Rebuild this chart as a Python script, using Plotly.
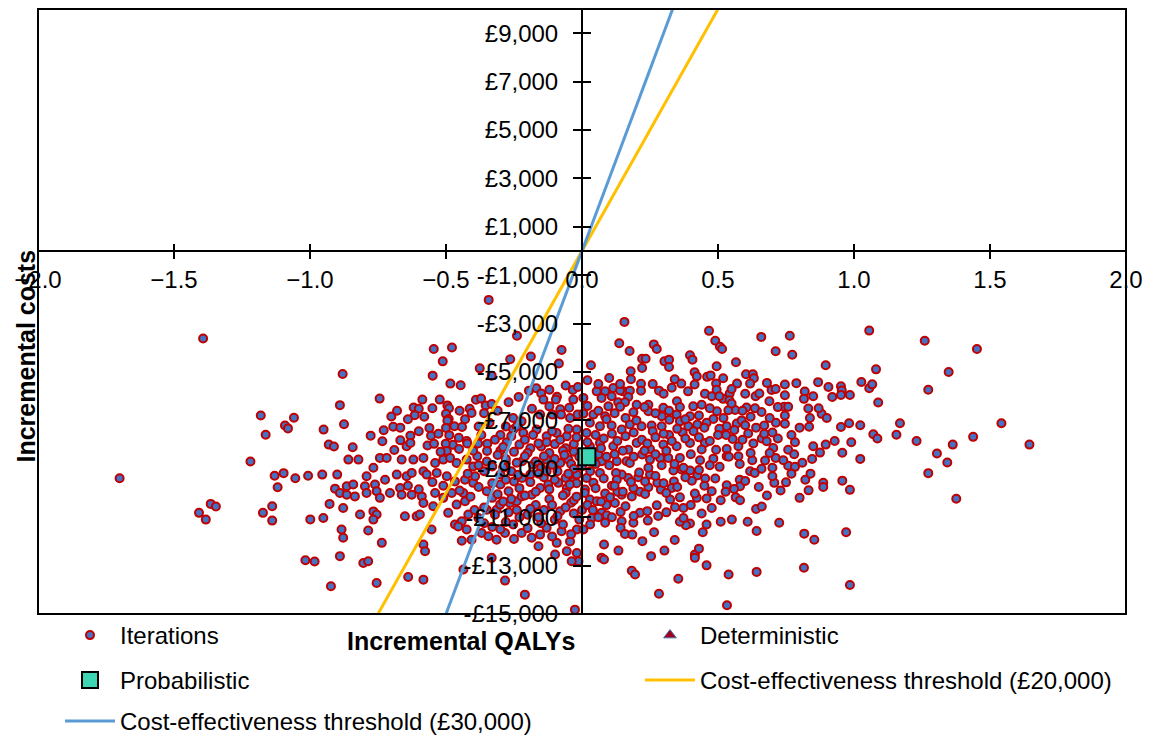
import plotly.graph_objects as go

# ---------------- axes ----------------
X_RANGE = [-2.0, 2.0]
Y_RANGE = [-15000, 10000]
x_tickvals = [-2.0, -1.5, -1.0, -0.5, 0.0, 0.5, 1.0, 1.5, 2.0]
y_tickvals = [-15000, -13000, -11000, -9000, -7000, -5000, -3000, -1000,
              1000, 3000, 5000, 7000, 9000]
y_ticktext = ["-£15,000", "-£13,000", "-£11,000", "-£9,000", "-£7,000", "-£5,000",
              "-£3,000", "-£1,000", "£1,000", "£3,000", "£5,000", "£7,000", "£9,000"]

# ---------------- summary points ----------------
prob_qaly = [0.018]
prob_cost = [-8500]
det_qaly = [0.018]
det_cost = [-8500]

thresholds = [20000, 30000]
threshold_names = ["Cost-effectiveness threshold (£20,000)",
                   "Cost-effectiveness threshold (£30,000)"]
threshold_colors = ["#FFC000", "#5B9BD5"]

# ---------------- PSA iterations (incremental QALYs, incremental costs) ----------------
far_left = [
    (-1.393, -3615), (-0.88, -5080), (-0.89, -6370), (-1.181, -6800), (-1.059, -6890),
    (-1.092, -7210), (-1.081, -7330), (-1.163, -7590), (-0.95, -7380), (-0.931, -8000),
    (-0.912, -8080), (-0.875, -7160), (-1.70, -9390), (-1.219, -8700), (-1.130, -9290),
    (-1.097, -9180), (-1.054, -9390), (-1.007, -9290), (-0.955, -9240), (-0.90, -9240),
    (-1.119, -9760), (-0.908, -9820), (-1.365, -10450), (-1.346, -10560), (-1.408, -10820),
    (-1.383, -11100), (-1.173, -10820), (-1.139, -10550), (-1.139, -11140), (-0.999, -11090),
    (-0.951, -11030), (-0.928, -10450), (-1.017, -12780), (-0.983, -12830), (-0.923, -13850),
]

far_right = [
    (1.056, -3290), (1.260, -3710), (1.452, -4050), (0.896, -4720), (1.081, -4890),
    (1.348, -5000), (1.273, -5730), (0.906, -5620), (0.952, -5590), (0.955, -5760),
    (0.920, -6030), (0.952, -5950), (0.985, -5950), (1.027, -5410), (1.056, -5670),
    (1.067, -5510), (1.089, -6260), (0.881, -6730), (0.900, -6900), (0.952, -7270),
    (0.982, -7120), (1.023, -7200), (1.169, -7120), (1.156, -7590), (1.071, -7570),
    (1.086, -7750), (1.230, -7850), (1.438, -7680), (1.542, -7120), (1.645, -8000),
    (1.363, -8000), (0.896, -8000), (0.929, -7850), (0.990, -7900), (1.305, -8370),
    (0.957, -8340), (0.875, -8330), (1.023, -8590), (1.343, -8740), (1.273, -9180),
    (0.887, -9580), (0.887, -9750), (0.957, -9490), (0.985, -9870), (1.376, -10240),
    (0.971, -11620), (0.985, -13800),
]

upper_left = [
    (-0.343, -2020), (-0.239, -3500), (-0.545, -4050), (-0.478, -3990), (-0.512, -4560),
    (-0.549, -5150), (-0.484, -5480), (-0.446, -5550), (-0.264, -4470), (-0.188, -4360),
    (-0.085, -4650), (-0.075, -4090), (-0.376, -4850), (-0.332, -5150), (-0.744, -6100),
    (-0.619, -6470), (-0.600, -6520), (-0.587, -6140), (-0.615, -6790), (-0.701, -6840),
    (-0.523, -6140), (-0.495, -6380), (-0.489, -6500), (-0.500, -6730), (-0.490, -6940),
    (-0.413, -6520), (-0.390, -6150), (-0.371, -6100), (-0.354, -6380), (-0.332, -6320),
    (-0.406, -6690), (-0.777, -7630), (-0.843, -8110), (-0.729, -7410), (-0.694, -7260),
    (-0.668, -7300), (-0.631, -7630), (-0.734, -7860), (-0.690, -8220), (-0.668, -7820),
    (-0.645, -8070), (-0.631, -7930), (-0.561, -7310), (-0.555, -7630), (-0.528, -7550),
    (-0.495, -7010), (-0.500, -7310), (-0.469, -7240), (-0.441, -7270), (-0.488, -7610),
    (-0.453, -7720), (-0.424, -7850), (-0.475, -8010), (-0.568, -8040), (-0.544, -7970),
    (-0.501, -7960), (-0.497, -8260), (-0.452, -8180), (-0.422, -7950), (-0.382, -7950),
    (-0.348, -7960), (-0.349, -8260), (-0.31, -6600), (-0.28, -7250), (-0.30, -7600),
    (-0.27, -6250),
]

upper_mid = [
    (-0.233, -6030), (-0.195, -5770), (-0.168, -5670), (-0.150, -5890), (-0.120, -5730),
    (-0.092, -6020), (-0.060, -5560), (-0.034, -5740), (-0.015, -5620), (-0.142, -6140),
    (-0.120, -6420), (-0.096, -6140), (-0.080, -6540), (-0.047, -6480), (-0.032, -6140),
    (-0.184, -6520), (-0.154, -6760), (-0.109, -6760), (-0.077, -6760), (-0.044, -6900),
    (-0.016, -6760), (-0.253, -6900), (-0.222, -7040), (-0.253, -7380), (-0.216, -7520),
    (-0.167, -7380), (-0.130, -7660), (-0.093, -7520), (-0.056, -7660), (-0.019, -7380),
    (-0.277, -7900), (-0.230, -8000), (-0.190, -8150), (-0.150, -8080), (-0.100, -7980),
    (-0.060, -8150), (-0.030, -8300), (-0.300, -8250), (-0.250, -8300), (-0.200, -8350),
    (-0.120, -8350), (-0.070, -8250), (-0.030, -7980),
]

upper_right = [
    (0.156, -2930), (0.137, -3810), (0.175, -4130), (0.264, -3860), (0.275, -4050),
    (0.467, -3300), (0.490, -3710), (0.507, -3960), (0.515, -4050), (0.659, -3550),
    (0.764, -3500), (0.712, -4140), (0.773, -4290), (0.033, -4720), (0.020, -5340),
    (0.221, -4450), (0.234, -4450), (0.221, -4830), (0.179, -4970), (0.303, -4560),
    (0.320, -4490), (0.320, -4790), (0.397, -4310), (0.406, -4490), (0.495, -4760),
    (0.566, -4600), (0.414, -5010), (0.422, -5180), (0.341, -5300), (0.365, -5480),
    (0.414, -5520), (0.460, -5200), (0.473, -5140), (0.493, -5480), (0.519, -5260),
    (0.603, -5090), (0.628, -5090), (0.632, -5260), (0.570, -5480), (0.618, -5480),
    (0.697, -5740), (0.712, -5700), (0.746, -5520), (0.788, -5460), (0.868, -5420),
    (0.638, -6000), (0.652, -5890), (0.689, -6210), (0.746, -5960), (0.819, -5810),
    (0.816, -6110), (0.850, -6000), (0.283, -5770), (0.349, -6210),
    (0.217, -5490), (0.217, -5770), (0.152, -5800), (0.176, -5770), (0.115, -5660),
    (0.140, -5760), (0.085, -5800), (0.054, -5800), (0.072, -6070), (0.109, -6000),
    (0.170, -6030), (0.133, -6250), (0.158, -6250),
    (0.452, -5900), (0.477, -6000), (0.519, -6110), (0.543, -5890), (0.542, -6170),
    (0.495, -5730), (0.505, -6000),
    (0.636, -6500), (0.605, -6470), (0.563, -6570), (0.538, -6580), (0.496, -6620),
    (0.440, -6350), (0.409, -6420), (0.397, -6830), (0.348, -6760), (0.299, -6480),
    (0.293, -6830), (0.244, -6350), (0.244, -6620), (0.201, -6350), (0.189, -6660),
    (0.140, -6440), (0.097, -6420), (0.085, -6830), (0.042, -6760), (0.005, -6720),
    (0.005, -6070),
    (0.743, -6440), (0.758, -6440), (0.832, -6510), (0.838, -6900), (0.835, -7260),
    (0.746, -6800), (0.746, -7140), (0.713, -7100), (0.670, -7210), (0.611, -7540),
    (0.569, -7130), (0.587, -7000), (0.532, -7240), (0.505, -7350), (0.483, -6940),
    (0.458, -7100), (0.424, -7170), (0.391, -7240), (0.360, -7040), (0.321, -6970),
    (0.293, -7240), (0.256, -7210), (0.219, -7240), (0.176, -7170), (0.146, -7380),
    (0.109, -7210), (0.066, -7240), (0.029, -7100), (0.017, -7520),
    (0.554, -7770), (0.575, -8070), (0.532, -8180), (0.661, -7750), (0.679, -7860),
    (0.703, -8140), (0.758, -8210), (0.783, -7900), (0.850, -8070), (0.493, -8210),
    (0.452, -7930), (0.397, -7930), (0.348, -8070), (0.299, -8000), (0.250, -8180),
    (0.201, -7930), (0.170, -8210), (0.115, -8070), (0.066, -7930), (0.029, -8070),
    (0.26, -7450), (0.32, -7600), (0.37, -7500), (0.43, -7700), (0.50, -7600),
    (0.59, -7800), (0.64, -7300), (0.70, -7500), (0.87, -6500),
]

lower_left = [
    (-0.859, -8620), (-0.822, -8620), (-0.767, -8960), (-0.792, -9310), (-0.743, -8550),
    (-0.718, -8550), (-0.663, -8620), (-0.620, -8620), (-0.583, -8550), (-0.540, -8760),
    (-0.510, -8620), (-0.485, -8550), (-0.461, -8760), (-0.424, -8620), (-0.400, -8900),
    (-0.865, -9720), (-0.841, -9650), (-0.798, -9720), (-0.761, -9650), (-0.724, -9450),
    (-0.681, -9240), (-0.645, -9310), (-0.626, -9170), (-0.583, -9100), (-0.571, -9240),
    (-0.534, -9170), (-0.497, -9310), (-0.467, -9520), (-0.430, -9450), (-0.400, -9580),
    (-0.393, -9310),
    (-0.890, -10000), (-0.865, -10070), (-0.835, -10140), (-0.792, -10000), (-0.755, -9930),
    (-0.743, -10200), (-0.706, -10000), (-0.669, -9790), (-0.663, -10070), (-0.626, -10070),
    (-0.589, -10140), (-0.583, -10410), (-0.540, -10000), (-0.510, -10200), (-0.479, -10000),
    (-0.436, -10000), (-0.430, -10340), (-0.461, -10480),
    (-0.878, -10620), (-0.816, -10890), (-0.767, -10760), (-0.755, -10890), (-0.767, -11100),
    (-0.651, -10960), (-0.608, -10960), (-0.596, -10890), (-0.547, -10550), (-0.492, -10820),
    (-0.467, -11300), (-0.442, -11170), (-0.424, -11510), (-0.418, -10890), (-0.381, -11030),
    (-0.350, -10690), (-0.314, -10690), (-0.301, -10480), (-0.265, -10410), (-0.240, -10340),
    (-0.222, -10140), (-0.185, -10070), (-0.154, -9790), (-0.124, -9650), (-0.087, -9580),
    (-0.056, -9790), (-0.032, -9520), (-0.019, -9240),
    (-0.884, -11510), (-0.878, -11850), (-0.786, -11550), (-0.736, -12060), (-0.583, -12130),
    (-0.577, -12410), (-0.553, -11510), (-0.455, -11380), (-0.442, -11970), (-0.406, -11930),
    (-0.369, -11650), (-0.344, -11790), (-0.314, -11930), (-0.283, -11650), (-0.253, -11300),
    (-0.222, -11650), (-0.185, -11850), (-0.154, -11720), (-0.130, -11440), (-0.093, -12060),
    (-0.075, -11580), (-0.044, -12000), (-0.019, -11510), (-0.013, -12820), (-0.038, -12820),
    (-0.890, -12610), (-0.804, -12890), (-0.786, -12820), (-0.755, -13720), (-0.639, -13470),
    (-0.583, -13580), (-0.436, -13160), (-0.332, -12680), (-0.283, -13620), (-0.210, -14200),
    (-0.099, -12540), (-0.056, -12410), (-0.019, -12480), (-0.026, -14820),
    (-0.35, -9930), (-0.33, -10200), (-0.30, -9650), (-0.27, -9930), (-0.25, -9520),
    (-0.22, -9380), (-0.19, -9240), (-0.15, -8960), (-0.11, -8830), (-0.08, -8760),
    (-0.05, -8620), (-0.26, -9100), (-0.30, -9240), (-0.33, -8900), (-0.36, -9100),
    (-0.28, -8760), (-0.22, -8690), (-0.18, -8830), (-0.13, -8620), (-0.09, -9100),
    (-0.06, -9380), (-0.20, -10900), (-0.17, -10500), (-0.12, -10250), (-0.08, -10750),
    (-0.04, -10400), (-0.10, -11100), (-0.15, -11250), (-0.24, -10700), (-0.28, -11200),
    (-0.33, -11400),
    (-0.385, -8480), (-0.35, -8700), (-0.31, -8430), (-0.28, -8600), (-0.24, -8750),
    (-0.21, -8480), (-0.17, -8700), (-0.14, -8480), (-0.10, -8600), (-0.065, -8430),
    (-0.04, -8800),
]

lower_right = [
    (0.036, -11030), (0.005, -11510), (0.072, -10820), (0.091, -10920), (0.085, -11230),
    (0.142, -10780), (0.146, -11170), (0.142, -11440), (0.158, -11690), (0.189, -11230),
    (0.185, -11720), (0.213, -10820), (0.242, -11140), (0.265, -11620), (0.222, -11990),
    (0.081, -12130), (0.072, -12680), (0.081, -12750), (0.134, -12380), (0.183, -13210),
    (0.195, -13370), (0.283, -14160), (0.354, -13540), (0.254, -12610), (0.303, -12380),
    (0.341, -11940), (0.415, -12540), (0.415, -12680), (0.430, -12300), (0.458, -12990),
    (0.533, -14640), (0.539, -13370), (0.642, -13260), (0.816, -13090), (0.817, -11680),
    (0.854, -11930), (0.725, -11230), (0.642, -11570),
    (0.609, -11190), (0.551, -11100), (0.510, -11190), (0.458, -11300), (0.444, -11620),
    (0.397, -11260), (0.382, -11330), (0.360, -11190), (0.373, -11030),
    (0.342, -10590), (0.373, -10620), (0.275, -10510), (0.477, -10620), (0.458, -10230),
    (0.422, -10200), (0.415, -10020), (0.360, -10180), (0.324, -10270),
    (0.640, -10660), (0.661, -10560), (0.750, -9560), (0.758, -8870), (0.783, -8920),
    (0.821, -9450), (0.833, -9890), (0.846, -8590), (0.707, -9580), (0.700, -9310),
    (0.700, -8960), (0.712, -8550), (0.673, -8660), (0.626, -8650), (0.618, -9100),
    (0.635, -9170), (0.580, -9450), (0.581, -9720), (0.532, -9680), (0.528, -9950),
    (0.559, -9830), (0.565, -10180), (0.581, -10300), (0.506, -8920), (0.532, -8480),
    (0.575, -8480), (0.477, -9930), (0.483, -8580), (0.434, -8650), (0.424, -9280),
    (0.453, -9400), (0.404, -9490), (0.397, -9070), (0.366, -9030), (0.336, -9070),
    (0.338, -9520), (0.330, -9790), (0.290, -9860), (0.277, -9580), (0.244, -9760),
    (0.250, -9240), (0.244, -8960), (0.207, -9350), (0.170, -9380), (0.146, -9240),
    (0.125, -9170), (0.128, -9450), (0.164, -8690), (0.176, -8760), (0.250, -8620),
    (0.287, -8550), (0.293, -8850), (0.317, -8550), (0.360, -8550), (0.373, -8960),
    (0.221, -8410), (0.128, -8690), (0.072, -8690), (0.066, -9170), (0.017, -9380),
    (0.042, -9580), (0.011, -9860), (0.029, -10270), (0.054, -10340), (0.085, -10020),
    (0.121, -10410), (0.103, -10180), (0.146, -10070), (0.183, -10140), (0.213, -9950),
    (0.232, -10040), (0.189, -9790), (0.232, -9520),
]

core = [
    (-0.01, -8500), (0.00, -8900), (0.03, -9100), (-0.03, -9000), (0.05, -8800),
    (0.06, -8400), (0.09, -8500), (0.10, -8850), (-0.05, -9200), (-0.02, -9600),
    (0.01, -10000), (-0.03, -10300), (0.00, -10700), (0.02, -10500), (-0.06, -10000),
    (0.05, -9800), (0.08, -9400), (0.11, -9700), (0.13, -9950), (0.09, -10500),
    (0.06, -11000), (0.03, -11300),
]

core_left = [
    (-0.34, -7100), (-0.32, -7800), (-0.29, -8100), (-0.26, -7650), (-0.24, -7250),
    (-0.21, -7800), (-0.18, -7600), (-0.16, -7950), (-0.13, -7900), (-0.11, -7450),
    (-0.08, -7800), (-0.05, -7350), (-0.02, -7700), (-0.33, -9600), (-0.31, -10050),
    (-0.28, -9450), (-0.26, -10250), (-0.23, -9800), (-0.21, -10100), (-0.19, -9550),
    (-0.17, -9950), (-0.14, -9350), (-0.12, -9850), (-0.10, -9450), (-0.07, -10100),
    (-0.045, -9650), (-0.02, -10150), (-0.36, -10600), (-0.32, -10900), (-0.29, -10350),
    (-0.27, -10800), (-0.23, -11000), (-0.19, -10650), (-0.16, -11000), (-0.14, -10700),
    (-0.11, -10500), (-0.09, -10950), (-0.06, -10600), (-0.03, -10850), (-0.01, -11100),
    (-0.13, -9100), (-0.16, -9200), (-0.235, -9250), (-0.29, -8950), (-0.38, -9750),
    (-0.41, -10150), (-0.395, -10700), (-0.36, -11250), (-0.30, -11500), (-0.25, -11900),
    (-0.20, -11450), (-0.16, -12200), (-0.11, -11800), (-0.07, -11300), (-0.04, -11700),
    (-0.68, -6600), (-0.64, -6950), (-0.58, -6850), (-0.55, -6500), (-0.45, -6600),
    (-0.43, -6950), (-0.38, -7250), (-0.36, -6700), (-0.60, -7450), (-0.52, -8300),
    (-0.40, -8250), (-0.37, -7600), (-0.64, -9700), (-0.60, -9850), (-0.55, -9550),
    (-0.51, -9700), (-0.45, -9900), (-0.42, -9200), (-0.38, -8850),
]

core_right = [
    (0.02, -7900), (0.05, -7600), (0.08, -7750), (0.11, -7550), (0.13, -7850),
    (0.16, -7650), (0.19, -7500), (0.22, -7800), (0.24, -7950), (0.27, -7700),
    (0.30, -7550), (0.33, -7850), (0.35, -7350), (0.38, -7750), (0.41, -7450),
    (0.45, -7300), (0.47, -7850), (0.03, -8350), (0.07, -8150), (0.12, -8400),
    (0.15, -8250), (0.19, -8500), (0.23, -8250), (0.27, -8400), (0.31, -8250),
    (0.34, -8800), (0.40, -8400), (0.44, -8200), (0.47, -8850), (0.04, -10700),
    (0.07, -10350), (0.11, -11000), (0.16, -10550), (0.19, -10950), (0.24, -10750),
    (0.28, -10950), (0.31, -10800), (0.12, -9700), (0.15, -9950), (0.18, -9550),
    (0.21, -9150), (0.27, -9300), (0.30, -9600), (0.31, -10000), (0.35, -9750),
    (0.38, -9350), (0.43, -9050), (0.45, -9700), (0.49, -9400), (0.51, -10300),
    (0.40, -10500), (0.44, -10850), (0.02, -6400), (0.06, -6600), (0.09, -6950),
    (0.12, -6700), (0.16, -6900), (0.20, -7000), (0.23, -6450), (0.27, -6700),
    (0.32, -6600), (0.36, -6450), (0.38, -6950), (0.43, -6800), (0.47, -6500),
    (0.52, -6900), (0.55, -6300), (0.59, -6600), (0.62, -6850), (0.66, -6650),
    (0.69, -6900), (0.72, -6450), (0.06, -5500), (0.10, -5250), (0.14, -5500),
    (0.18, -5300), (0.26, -5500), (0.30, -5900), (0.33, -5650), (0.39, -5800),
    (0.55, -5700), (0.60, -5900), (0.68, -5450),
    (0.53, -7600), (0.56, -7400), (0.60, -7200), (0.63, -7950), (0.67, -7550),
    (0.72, -7750), (0.77, -7600), (0.80, -7300), (0.54, -8500), (0.58, -8800),
    (0.62, -8350), (0.66, -9000), (0.69, -8350), (0.74, -8650), (0.78, -8400),
    (0.81, -8750), (0.60, -9500), (0.65, -9750), (0.68, -10100), (0.73, -9900),
    (0.77, -9200), (0.80, -10200), (0.84, -9200),
]

iterations = (far_left + far_right + upper_left + upper_mid + upper_right
              + lower_left + lower_right + core + core_left + core_right)
iter_qaly = [p[0] for p in iterations]
iter_cost = [p[1] for p in iterations]

FONT = "Liberation Sans, Arial, sans-serif"
PLOT_L, PLOT_W, PLOT_B, PLOT_H = 38, 1088, 614.5, 605


def px_x(px):
    return (px - PLOT_L) / PLOT_W


def px_y(py):
    return (PLOT_B - py) / PLOT_H


fig = go.Figure()

fig.add_trace(go.Scatter(
    x=iter_qaly, y=iter_cost, mode="markers", name="Iterations",
    marker=dict(size=8, color="#4472C4", line=dict(color="#C00000", width=2)),
    legend="legend",
))
fig.add_trace(go.Scatter(
    x=det_qaly, y=det_cost, mode="markers", name="Deterministic",
    marker=dict(size=11, symbol="triangle-up", color="#A00020", line=dict(color="#4A6FA5", width=1)),
    legend="legend2",
))
fig.add_trace(go.Scatter(
    x=prob_qaly, y=prob_cost, mode="markers", name="Probabilistic",
    marker=dict(size=17, symbol="square", color="#3CD6B4", line=dict(color="#000000", width=2)),
    legend="legend3",
))
for lam, nm, col, lg in zip(thresholds, threshold_names, threshold_colors, ["legend4", "legend5"]):
    ys = [Y_RANGE[0], Y_RANGE[1]]
    xs = [v / lam for v in ys]
    fig.add_trace(go.Scatter(
        x=xs, y=ys, mode="lines", name=nm,
        line=dict(color=col, width=3), legend=lg,
    ))

# helper trace for the overlaid axes (cross tick marks)
fig.add_trace(go.Scatter(x=[None], y=[None], xaxis="x2", yaxis="y2",
                         showlegend=False, hoverinfo="skip"))

x_pos = (0 - Y_RANGE[0]) / (Y_RANGE[1] - Y_RANGE[0])
y_pos = (0 - X_RANGE[0]) / (X_RANGE[1] - X_RANGE[0])

tick_font = dict(family=FONT, size=24, color="#000000")
legend_font = dict(family=FONT, size=24, color="#000000")


def legend_box(xpx, ypx):
    return dict(x=px_x(xpx), y=px_y(ypx), xanchor="left", yanchor="middle",
                orientation="h", bgcolor="rgba(0,0,0,0)", font=legend_font, itemwidth=50)


fig.update_layout(
    width=1152, height=740,
    margin=dict(l=38, r=26, t=9, b=126, autoexpand=False),
    paper_bgcolor="white", plot_bgcolor="white",
    font=dict(family=FONT, size=24, color="#000000"),
    xaxis=dict(range=X_RANGE, anchor="free", position=x_pos, showgrid=False, zeroline=False,
               showline=True, linecolor="black", linewidth=2,
               tickvals=x_tickvals, tickformat=".1f", ticks="outside", ticklen=7,
               tickwidth=2, tickcolor="black", tickfont=tick_font, ticklabelstandoff=0),
    yaxis=dict(range=Y_RANGE, anchor="free", position=y_pos, showgrid=False, zeroline=False,
               showline=True, linecolor="black", linewidth=2,
               tickvals=y_tickvals, ticktext=y_ticktext, ticks="outside", ticklen=8,
               tickwidth=2, tickcolor="black", tickfont=tick_font, ticklabelstandoff=10),
    xaxis2=dict(range=X_RANGE, overlaying="x", anchor="free", position=x_pos, showgrid=False,
                zeroline=False, showline=False, tickvals=x_tickvals, ticks="inside", ticklen=7,
                tickwidth=2, tickcolor="black", showticklabels=False),
    yaxis2=dict(range=Y_RANGE, overlaying="y", anchor="free", position=y_pos, showgrid=False,
                zeroline=False, showline=False, tickvals=y_tickvals, ticks="inside", ticklen=8,
                tickwidth=2, tickcolor="black", showticklabels=False),
    legend=legend_box(60, 636),
    legend2=legend_box(640, 636),
    legend3=legend_box(60, 681),
    legend4=legend_box(640, 681),
    legend5=legend_box(60, 722),
    shapes=[dict(type="rect", xref="paper", yref="paper", x0=0, x1=1, y0=0, y1=1,
                 line=dict(color="black", width=2), layer="above")],
    annotations=[
        dict(text="<b>Incremental QALYs</b>", xref="paper", yref="paper",
             x=px_x(461), y=px_y(641), showarrow=False,
             xanchor="center", yanchor="middle", font=dict(family=FONT, size=25, color="#000000")),
        dict(text="<b>Incremental costs</b>", xref="paper", yref="paper",
             x=px_x(25), y=px_y(357), showarrow=False, textangle=-90,
             xanchor="center", yanchor="middle", font=dict(family=FONT, size=25, color="#000000")),
    ],
    showlegend=True,
)

fig.write_html("out.html")
